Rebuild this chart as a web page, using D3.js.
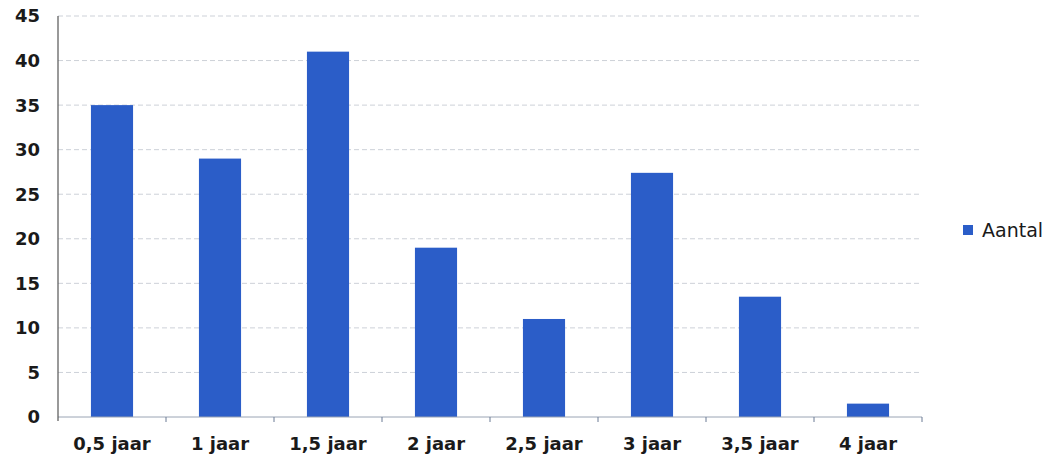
<!DOCTYPE html>
<html><head><meta charset="utf-8">
<script src="https://cdn.jsdelivr.net/npm/d3@7"></script>
<style>body{margin:0;background:#fff;} svg{display:block;}</style>
</head><body>
<svg id="chart" width="1050" height="463"></svg>
<script>
const categories = ["0,5 jaar","1 jaar","1,5 jaar","2 jaar","2,5 jaar","3 jaar","3,5 jaar","4 jaar"];
const aantal = [35, 29, 41, 19, 11, 27.4, 13.5, 1.5];
const yTicks = [0,5,10,15,20,25,30,35,40,45];
const seriesName = "Aantal";

const svg = d3.select("#chart");
const m = {left:58, right:128, top:16, bottom:46};
const W = 1050, H = 463;
const x = d3.scaleBand().domain(categories).range([m.left, W - m.right]).paddingInner(0.61).paddingOuter(0.305);
const xb = d3.scaleBand().domain(categories).range([m.left, W - m.right]);
const y = d3.scaleLinear().domain([0,45]).range([H - m.bottom, m.top]);
const font = "'DejaVu Sans', Verdana, sans-serif";
const blue = "#2b5dc8";

// gridlines
svg.append("g").selectAll("line").data(yTicks.slice(1)).join("line")
  .attr("x1", m.left).attr("x2", W - m.right)
  .attr("y1", d => y(d)).attr("y2", d => y(d))
  .attr("stroke", "#cdd1d8").attr("stroke-width", 1).attr("stroke-dasharray", "5,3");

// bars
svg.append("g").selectAll("rect").data(aantal).join("rect")
  .attr("x", (d,i) => x(categories[i]))
  .attr("width", x.bandwidth())
  .attr("y", d => y(d))
  .attr("height", d => y(0) - y(d))
  .attr("fill", blue);

// x axis
const xAxis = svg.append("g").attr("transform", `translate(0,${y(0)})`);
xAxis.append("line").attr("x1", m.left).attr("x2", W - m.right).attr("stroke", "#9aa4b4").attr("stroke-width",1);
xAxis.selectAll("line.tk").data(categories).join("line").attr("class","tk")
  .attr("x1", d => xb(d) + xb.bandwidth()).attr("x2", d => xb(d) + xb.bandwidth())
  .attr("y1", 0).attr("y2", 5).attr("stroke", "#6a7a94");
xAxis.selectAll("text").data(categories).join("text")
  .attr("x", d => xb(d) + xb.bandwidth()/2).attr("y", 33)
  .attr("text-anchor","middle").attr("font-family", font).attr("font-weight","bold")
  .attr("font-size", 18).attr("fill","#1a1a1a").text(d => d);

// y axis
const yAxis = svg.append("g");
yAxis.append("line").attr("x1", m.left).attr("x2", m.left).attr("y1", y(45)).attr("y2", y(0)+4)
  .attr("stroke", "#555").attr("stroke-width", 1.2);
yAxis.selectAll("text").data(yTicks).join("text")
  .attr("x", 40).attr("y", d => y(d)).attr("dy","0.36em")
  .attr("text-anchor","end").attr("font-family", font).attr("font-weight","bold")
  .attr("font-size", 18).attr("fill","#1a1a1a").text(d => d);

// legend
const lg = svg.append("g").attr("transform", `translate(963,230)`);
lg.append("rect").attr("x",0).attr("y",-5).attr("width",10).attr("height",10).attr("fill", blue);
lg.append("text").attr("x",19).attr("y",0).attr("dy","0.36em").attr("font-family", font)
  .attr("font-size", 19).attr("fill","#1a1a1a").text(seriesName);
</script>
</body></html>
